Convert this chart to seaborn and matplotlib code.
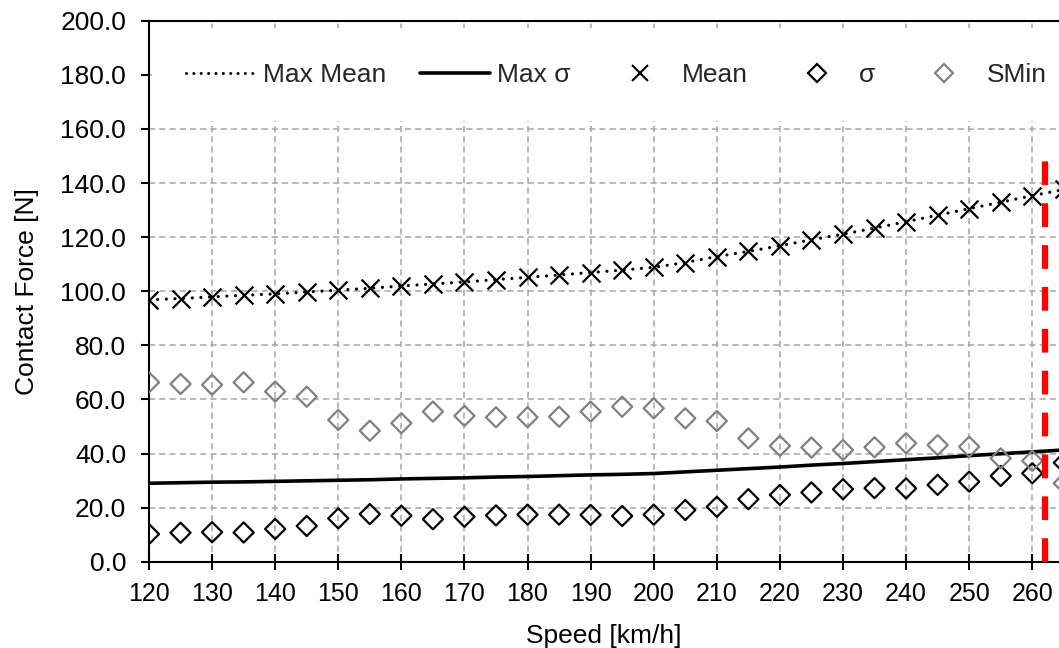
import matplotlib
matplotlib.use("Agg")
import matplotlib.pyplot as plt
from matplotlib.lines import Line2D
import pandas as pd
import seaborn as sns

# Contact force statistics versus running speed
speed = [120, 125, 130, 135, 140, 145, 150, 155, 160, 165, 170, 175, 180, 185, 190,
         195, 200, 205, 210, 215, 220, 225, 230, 235, 240, 245, 250, 255, 260, 265]
max_mean = [96.8, 97.3, 97.9, 98.5, 99.0, 99.7, 100.4, 101.1, 101.9, 102.7, 103.4, 104.3,
            105.1, 106.0, 106.9, 107.8, 108.8, 110.6, 112.8, 114.7, 116.8, 119.0, 121.1,
            123.3, 125.7, 128.1, 130.5, 132.9, 135.3, 137.6]
max_sigma = [29.0, 29.2, 29.4, 29.5, 29.7, 29.9, 30.1, 30.3, 30.6, 30.8, 31.0, 31.3, 31.5,
             31.8, 32.1, 32.3, 32.6, 33.2, 33.8, 34.4, 35.0, 35.7, 36.3, 37.0, 37.7, 38.4,
             39.2, 39.9, 40.6, 41.3]
mean = [96.8, 97.3, 97.9, 98.5, 99.0, 99.7, 100.4, 101.1, 101.9, 102.7, 103.4, 104.3,
        105.1, 106.0, 106.9, 107.8, 108.8, 110.6, 112.8, 114.7, 116.8, 119.0, 121.1,
        123.3, 125.7, 128.1, 130.5, 132.9, 135.3, 137.6]
sigma = [10.2, 10.7, 10.9, 10.8, 12.1, 13.2, 16.0, 17.6, 17.0, 15.7, 16.6, 17.1, 17.4,
         17.4, 17.3, 16.9, 17.4, 19.1, 20.3, 23.1, 24.7, 25.6, 26.8, 27.2, 27.1, 28.4,
         29.6, 31.7, 32.7, 36.6]
smin = [66.3, 65.7, 65.4, 66.3, 62.9, 61.0, 52.4, 48.4, 51.2, 55.5, 53.9, 53.4, 53.4,
        53.6, 55.5, 57.3, 56.7, 53.0, 52.0, 45.6, 42.8, 42.2, 41.3, 42.3, 43.8, 43.1,
        42.5, 38.2, 37.3, 29.0]

limit_speed = 262
limit_force = [0, 148]

x_ticks = list(range(120, 261, 10))
y_ticks = list(range(0, 201, 20))
legend_labels = ["Max Mean", "Max σ", "Mean", "σ", "SMin"]

sns.set_theme(style="white")
plt.rcParams["font.family"] = ["Liberation Sans", "DejaVu Sans"]

df = pd.DataFrame({"speed": speed, "max_mean": max_mean, "max_sigma": max_sigma,
                   "mean": mean, "sigma": sigma, "smin": smin})

W, H = 1059, 648
fig = plt.figure(figsize=(W / 100, H / 100), dpi=100)
ax = fig.add_axes([149 / W, (H - 561.7) / H, 910 / W, 541 / H])

dotted = (0, (0.01, 2.7))
diamond_s = 105
sns.lineplot(data=df, x="speed", y="max_mean", ax=ax, color="black", lw=2.3,
             linestyle=dotted, dash_capstyle="round", errorbar=None, zorder=3)
sns.lineplot(data=df, x="speed", y="max_sigma", ax=ax, color="black", lw=2.6,
             errorbar=None, zorder=3)
sns.scatterplot(data=df, x="speed", y="mean", ax=ax, marker="x", s=165,
                color="black", linewidth=1.6, zorder=4)
sns.scatterplot(data=df, x="speed", y="sigma", ax=ax, marker="D", s=diamond_s,
                facecolor="none", edgecolor="black", linewidth=1.6, zorder=4)
sns.scatterplot(data=df, x="speed", y="smin", ax=ax, marker="D", s=diamond_s,
                facecolor="none", edgecolor="#808080", linewidth=1.6, zorder=4)

# speed limit marker
ax.plot([limit_speed, limit_speed], limit_force, color="#FF0000", lw=4.5,
        linestyle=(0, (3.8, 2.9)), solid_capstyle="butt", dash_capstyle="butt", zorder=5)

ax.set_xlim(120, 120 + 910 / 6.309)
ax.set_ylim(0, 200)
ax.set_xticks(x_ticks)
ax.set_xticklabels([str(v) for v in x_ticks])
ax.set_yticks(y_ticks)
ax.set_yticklabels([f"{v:.1f}" for v in y_ticks])

ax.set_axisbelow(True)
ax.grid(True, color="#A6A6A6", lw=1.1, linestyle=(0, (4, 2.7)))

for side in ["left", "bottom", "top"]:
    ax.spines[side].set_color("black")
    ax.spines[side].set_linewidth(1.5)
ax.spines["right"].set_visible(False)

ax.tick_params(axis="x", direction="inout", length=11.5, width=1.5, color="black",
               labelsize=18, pad=9, labelcolor="black", bottom=True)
ax.tick_params(axis="y", direction="out", length=5.5, width=1.5, color="black",
               labelsize=19, pad=11, labelcolor="black", left=True)

ax.set_xlabel("Speed [km/h]", fontsize=19, color="black", labelpad=13)
ax.set_ylabel("Contact Force [N]", fontsize=19, color="black", labelpad=15)

ms_d = diamond_s ** 0.5
handles = [
    Line2D([], [], color="black", lw=2.2, linestyle=(0, (0.01, 2.4)), dash_capstyle="round"),
    Line2D([], [], color="black", lw=2.6),
    Line2D([], [], color="black", marker="x", markersize=12, markeredgewidth=1.5, ls=""),
    Line2D([], [], color="black", marker="D", markersize=ms_d * 0.85, markerfacecolor="none",
           markeredgewidth=1.6, ls=""),
    Line2D([], [], color="#808080", marker="D", markersize=ms_d * 0.85, markerfacecolor="none",
           markeredgewidth=1.6, ls=""),
]
leg = ax.legend(handles, legend_labels, loc="center left", bbox_to_anchor=(0.003, 0.9),
                ncol=5, fontsize=19, frameon=True, facecolor="white", edgecolor="none",
                framealpha=1, fancybox=False, borderpad=1.3, borderaxespad=0,
                handlelength=2.65, handletextpad=0.27, columnspacing=1.29)
leg.set_zorder(6)

fig.savefig("out.png", dpi=100)
